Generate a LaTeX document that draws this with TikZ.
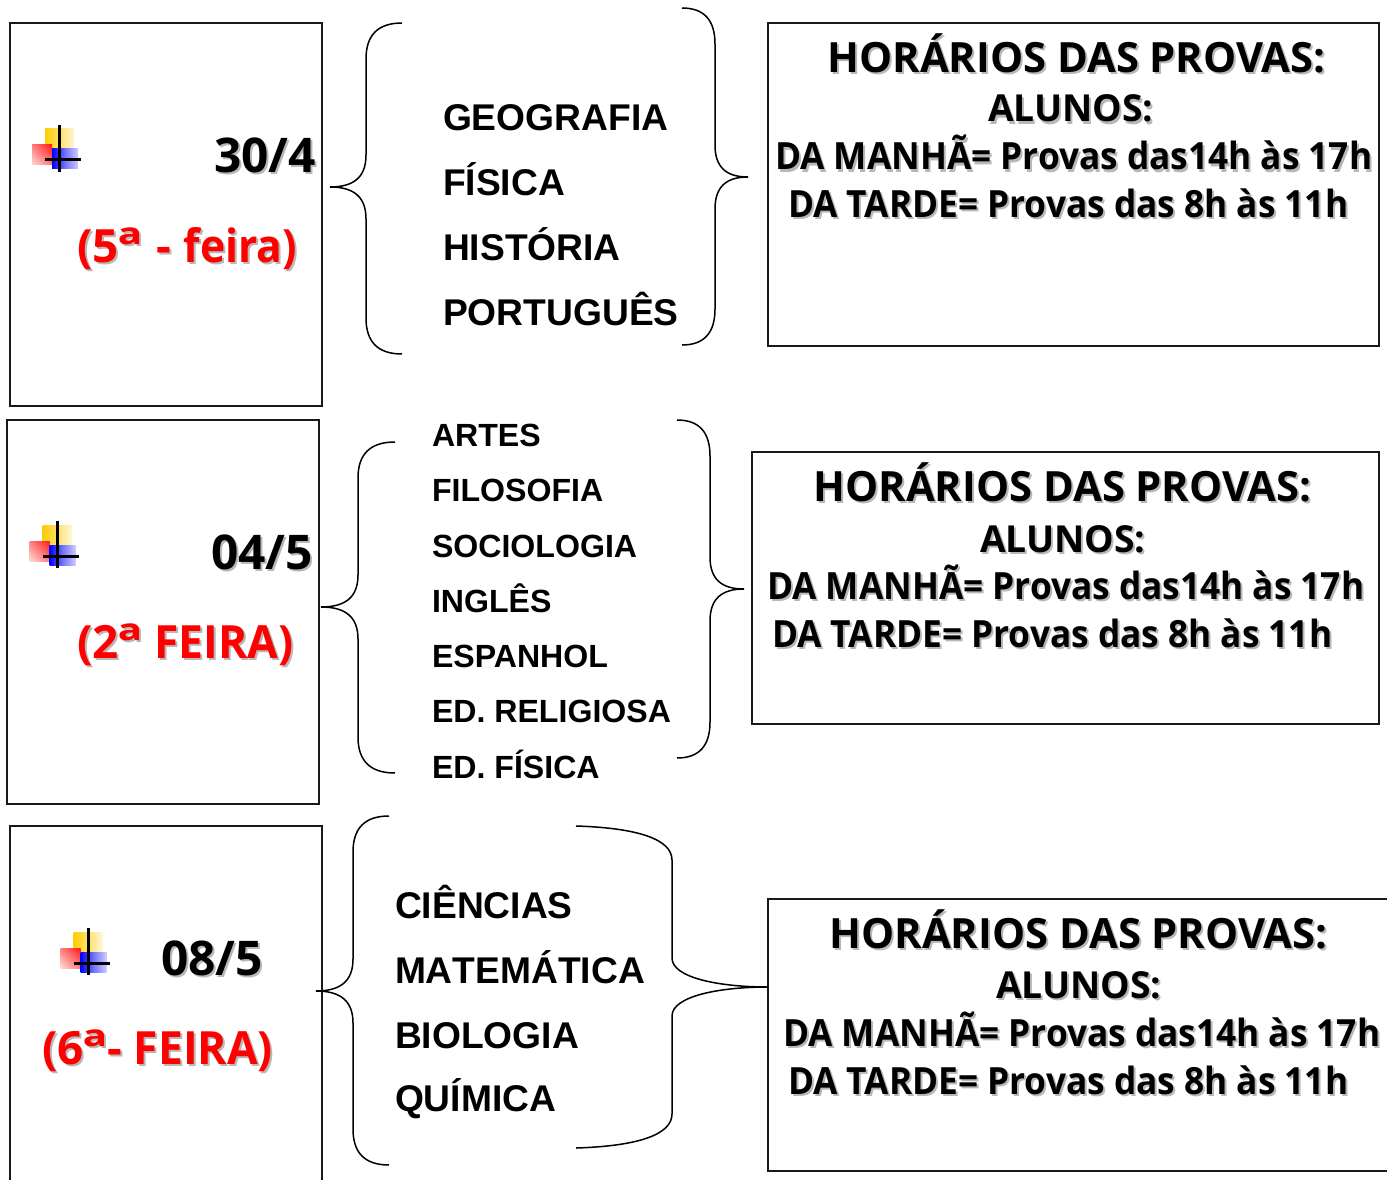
\documentclass[tikz,border=0pt]{standalone}
\usetikzlibrary{shadings}
\usepackage{fontspec}
\usepackage{graphicx}
\setmainfont{Open Sans}
\newfontfamily\condfont{Open Sans}[FakeStretch=0.94]
\newfontfamily\subjfont{Liberation Sans}[BoldFont={Liberation Sans Bold}]
\newfontfamily\subjnokern{Liberation Sans}[BoldFont={Liberation Sans Bold},Kerning=Off]
\definecolor{shgray}{gray}{0.72}
\definecolor{goldy}{HTML}{FFCC00}
\definecolor{goldpale}{HTML}{FFF6D5}
\newcommand{\shtxt}[2][black]{\leavevmode\rlap{\kern2pt\raisebox{-2pt}{\textcolor{shgray}{#2}}}\textcolor{#1}{#2}}
\newcommand{\ordo}{\scalebox{1.35}[1.05]{ª}}
\newcommand{\narrowA}[1]{\scalebox{.93}[1]{#1}}
\newcommand{\narrowB}[1]{\scalebox{.97}[1]{#1}}
\tikzset{
  x=1pt,y=-1pt,
  frame/.style={draw=black!90,line width=1.6pt},
  bracecurve/.style={draw=black,line width=1.5pt},
  txt/.style={anchor=base west,inner sep=0pt,outer sep=0pt},
  bigdate/.style={txt,font=\fontsize{47.8}{48}\selectfont\bfseries},
  big/.style={txt,font=\fontsize{45.8}{46}\selectfont\bfseries},
  title/.style={txt,font=\fontsize{41.7}{42}\selectfont\bfseries},
  alunos/.style={txt,font=\fontsize{37.2}{38}\selectfont\bfseries},
  sched/.style={txt,font=\condfont\fontsize{37.5}{38}\selectfont\bfseries},
  subjA/.style={txt,font=\subjnokern\fontsize{37.2}{37}\selectfont\bfseries},
  subjB/.style={txt,font=\subjfont\fontsize{32.1}{33}\selectfont\bfseries},
  pics/bullet/.style={code={
    \shade[left color=goldy,right color=goldpale] (-14.5,-31) rectangle (14.5,-11);
    \shade[upper right=red!90,lower left=red!15!white,upper left=red!50!white,lower right=red!50!white] (-27.5,-15) rectangle (-7.5,5);
    \shade[left color=blue,right color=blue!20!white,middle color=blue!55!white] (-7.5,-11) rectangle (18.5,9);
    \fill[black] (-1.5,-35) rectangle (1.5,12);
    \fill[black] (-14.5,-1.5) rectangle (21.5,1.5);
  }}
}
% brace: tipx tipy spinex endx top bottom
\newcommand{\bracepath}[6]{\draw[bracecurve] (#4,#5) .. controls ({#3+(#4-#3)/3},#5) and (#3,#5+12) .. (#3,#5+36) -- (#3,#2-32) .. controls (#3,#2-10) and ({#3+(#1-#3)/3},#2) .. (#1,#2) .. controls ({#3+(#1-#3)/3},#2) and (#3,#2+10) .. (#3,#2+32) -- (#3,#6-36) .. controls (#3,#6-12) and ({#3+(#4-#3)/3},#6) .. (#4,#6);}
\begin{document}
\begin{tikzpicture}
\useasboundingbox (0,0) rectangle (1387,1180);
% frames
\draw[frame] (10,23) rectangle (322,406);
\draw[frame] (7,420) rectangle (319,804);
\draw[frame] (10,1180) |- (322,826) -- (322,1180);
\draw[frame] (768,23) rectangle (1379,346);
\draw[frame] (752,452) rectangle (1379,724);
\draw[frame] (1387,899) -| (768,1171) -- (1387,1171);
% bullets
\pic at (59.5,160) {bullet};
\pic at (57,556) {bullet};
\pic at (88,963) {bullet};
% braces
\bracepath{330}{187}{366}{402}{23}{354}
\bracepath{748}{177}{715}{682}{8}{345}
\bracepath{321}{607}{358}{395}{442}{773}
\bracepath{744}{589}{710}{677}{420}{758}
\bracepath{316}{991}{353}{389}{816}{1165}
\draw[bracecurve] (576,826) .. controls (640,828) and (672,840) .. (672,860) -- (672,958) .. controls (672,978) and (720,987) .. (768,987) .. controls (720,987) and (672,996) .. (672,1016) -- (672,1114) .. controls (672,1134) and (640,1146) .. (576,1148);
% dates
\node[bigdate] (d1) at (214,172) {\shtxt{30/4}};
\node[big] (w1) at (77,262) {\shtxt[red]{(5\ordo{} \kern2pt- \kern1pt\narrowA{feira)}}};
\node[bigdate] (d2) at (211,569) {\shtxt{04/5}};
\node[big] (w2) at (77,658.5) {\shtxt[red]{(2\ordo{} \narrowB{FEIRA)}}};
\node[bigdate] (d3) at (161,975) {\shtxt{08/5}};
\node[big] (w3) at (42,1064.5) {\shtxt[red]{(6\ordo{}- \narrowB{FEIRA)}}};
% subjects
\node[subjA] (s11) at (443,131) {GEOGRAFIA};
\node[subjA] (s12) at (443,196) {FÍSICA};
\node[subjA] (s13) at (443,260) {HISTÓRIA};
\node[subjA] (s14) at (443,325) {PORTUGUÊS};
\node[subjB] (s21) at (432,446) {ARTES};
\node[subjB] (s22) at (432,501) {FILOSOFIA};
\node[subjB] (s23) at (432,557) {SOCIOLOGIA};
\node[subjB] (s24) at (432,612) {INGLÊS};
\node[subjB] (s25) at (432,667) {ESPANHOL};
\node[subjB] (s26) at (432,722) {ED. RELIGIOSA};
\node[subjB] (s27) at (432,778) {ED. FÍSICA};
\node[subjA] (s31) at (395,918) {CIÊNCIAS};
\node[subjA] (s32) at (395,983) {MATEMÁTICA};
\node[subjA] (s33) at (395,1048) {BIOLOGIA};
\node[subjA] (s34) at (395,1111) {QUÍMICA};
% schedules
\node[title] (h1) at (827.5,73) {\shtxt{HORÁRIOS DAS PROVAS:}};
\node[alunos] (a1) at (988,122) {\shtxt{ALUNOS:}};
\node[sched] (m1) at (775,170) {\shtxt{DA MANHÃ= Provas das14h às 17h}};
\node[sched] (t1) at (788,217) {\shtxt{DA TARDE= Provas das 8h às 11h}};
\node[title] (h2) at (813.5,501) {\shtxt{HORÁRIOS DAS PROVAS:}};
\node[alunos] (a2) at (980,552) {\shtxt{ALUNOS:}};
\node[sched] (m2) at (767,599) {\shtxt{DA MANHÃ= Provas das14h às 17h}};
\node[sched] (t2) at (772,647) {\shtxt{DA TARDE= Provas das 8h às 11h}};
\node[title] (h3) at (829.5,948) {\shtxt{HORÁRIOS DAS PROVAS:}};
\node[alunos] (a3) at (996,998) {\shtxt{ALUNOS:}};
\node[sched] (m3) at (783,1046) {\shtxt{DA MANHÃ= Provas das14h às 17h}};
\node[sched] (t3) at (788,1094) {\shtxt{DA TARDE= Provas das 8h às 11h}};
\end{tikzpicture}
\end{document}
